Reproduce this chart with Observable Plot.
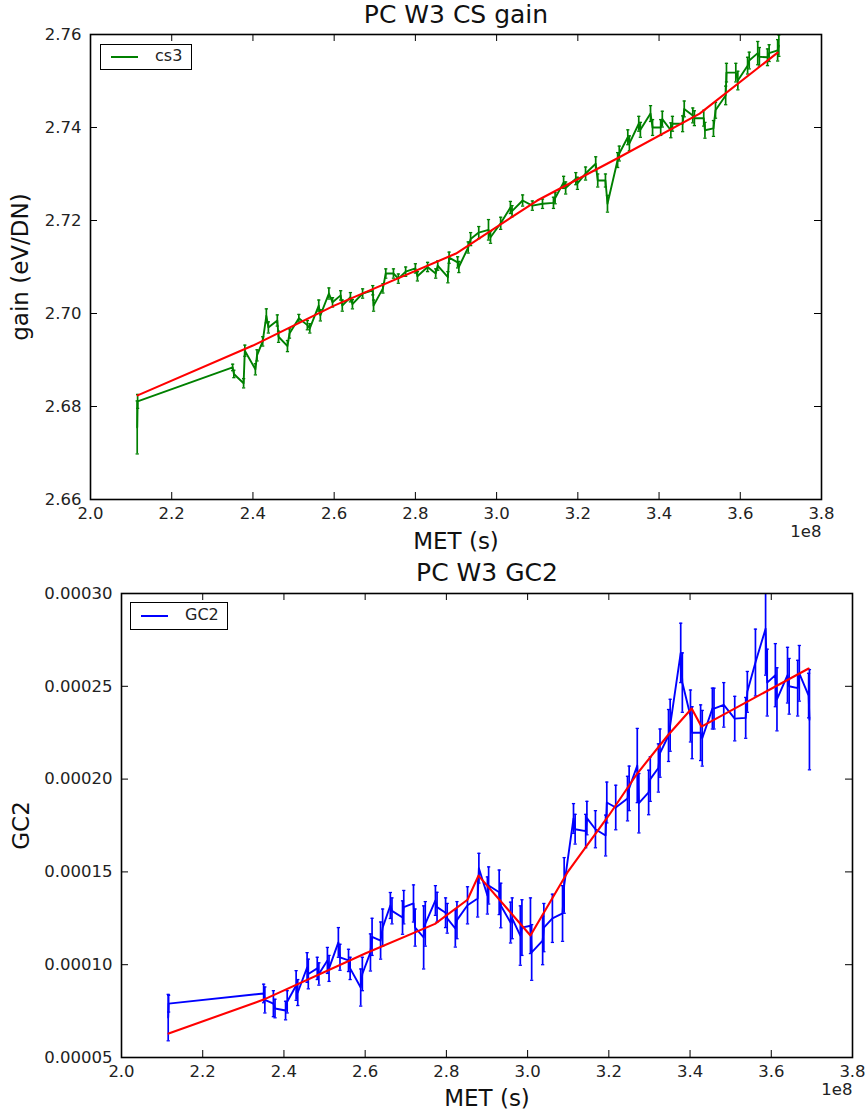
<!DOCTYPE html>
<html>
<head>
<meta charset="utf-8">
<script src="https://cdn.jsdelivr.net/npm/d3@7"></script>
<script src="https://cdn.jsdelivr.net/npm/@observablehq/plot@0.6"></script>
<style>
  html, body { margin: 0; padding: 0; background: #fff; }
  #page { position: relative; width: 866px; height: 1112px; font-family: "DejaVu Sans", sans-serif; }
  .panel { position: absolute; left: 0; }
  .legend { position: absolute; border: 1.5px solid #000; background: #fff; box-sizing: border-box;
            font-family: "DejaVu Sans", sans-serif; font-size: 16px; color: #222; }
  .legend .swatch { position: absolute; height: 2px; }
  .legend .lab { position: absolute; }
</style>
</head>
<body>
<div id="page"></div>
<script>
// ---------- Panel 1: PC W3 CS gain (x in units of 1e8 s) ----------
const csX = [2.115, 2.116, 2.350, 2.353, 2.377, 2.380, 2.406, 2.410, 2.424, 2.433, 2.438, 2.460, 2.463, 2.485, 2.490, 2.513, 2.534, 2.540, 2.562, 2.566, 2.587, 2.596, 2.616, 2.620, 2.640, 2.645, 2.670, 2.695, 2.697, 2.720, 2.727, 2.746, 2.758, 2.776, 2.800, 2.805, 2.830, 2.850, 2.855, 2.880, 2.883, 2.904, 2.907, 2.930, 2.936, 2.956, 2.980, 2.985, 3.010, 3.034, 3.038, 3.064, 3.088, 3.113, 3.140, 3.144, 3.165, 3.170, 3.195, 3.199, 3.219, 3.244, 3.249, 3.268, 3.273, 3.298, 3.302, 3.323, 3.327, 3.350, 3.354, 3.379, 3.384, 3.404, 3.408, 3.429, 3.433, 3.458, 3.462, 3.483, 3.487, 3.510, 3.513, 3.534, 3.539, 3.564, 3.566, 3.589, 3.594, 3.618, 3.622, 3.643, 3.647, 3.667, 3.671, 3.692, 3.695];
const csGain = [2.6755, 2.6811, 2.6884, 2.6870, 2.6850, 2.6920, 2.6880, 2.6910, 2.6940, 2.6995, 2.6970, 2.6985, 2.6950, 2.6930, 2.6957, 2.6990, 2.6975, 2.6968, 2.7017, 2.6996, 2.7043, 2.7024, 2.7039, 2.7017, 2.7035, 2.7020, 2.7043, 2.7050, 2.7017, 2.7054, 2.7086, 2.7086, 2.7075, 2.7090, 2.7097, 2.7080, 2.7100, 2.7086, 2.7103, 2.7078, 2.7120, 2.7110, 2.7100, 2.7142, 2.7160, 2.7174, 2.7180, 2.7164, 2.7194, 2.7228, 2.7220, 2.7243, 2.7232, 2.7236, 2.7238, 2.7248, 2.7282, 2.7270, 2.7290, 2.7280, 2.7301, 2.7322, 2.7286, 2.7286, 2.7236, 2.7330, 2.7344, 2.7379, 2.7366, 2.7408, 2.7395, 2.7430, 2.7400, 2.7400, 2.7418, 2.7394, 2.7408, 2.7408, 2.7440, 2.7426, 2.7420, 2.7420, 2.7394, 2.7398, 2.7437, 2.7469, 2.7518, 2.7518, 2.7501, 2.7533, 2.7544, 2.7560, 2.7552, 2.7551, 2.7560, 2.7566, 2.7576];
const csErr = [0.0057, 0.0015, 0.0007, 0.0008, 0.0010, 0.0012, 0.0012, 0.0012, 0.0010, 0.0015, 0.0012, 0.0012, 0.0012, 0.0012, 0.0010, 0.0008, 0.0010, 0.0010, 0.0012, 0.0012, 0.0012, 0.0010, 0.0010, 0.0012, 0.0010, 0.0010, 0.0010, 0.0010, 0.0012, 0.0010, 0.0010, 0.0010, 0.0010, 0.0010, 0.0010, 0.0010, 0.0010, 0.0010, 0.0010, 0.0012, 0.0012, 0.0012, 0.0012, 0.0012, 0.0014, 0.0013, 0.0022, 0.0013, 0.0013, 0.0013, 0.0012, 0.0012, 0.0010, 0.0010, 0.0012, 0.0012, 0.0013, 0.0013, 0.0013, 0.0013, 0.0014, 0.0015, 0.0014, 0.0014, 0.0018, 0.0016, 0.0016, 0.0016, 0.0016, 0.0016, 0.0016, 0.0017, 0.0017, 0.0017, 0.0017, 0.0016, 0.0016, 0.0017, 0.0017, 0.0016, 0.0016, 0.0017, 0.0017, 0.0017, 0.0017, 0.0020, 0.0020, 0.0020, 0.0020, 0.0018, 0.0018, 0.0025, 0.0020, 0.0018, 0.0018, 0.0023, 0.0023];
const csFitX = [2.116, 2.40, 2.60, 2.90, 3.10, 3.30, 3.50, 3.692];
const csFitY = [2.6824, 2.6931, 2.7017, 2.7129, 2.7243, 2.7335, 2.7430, 2.7561];
const csYTicks = [2.66, 2.68, 2.70, 2.72, 2.74, 2.76];

// ---------- Panel 2: PC W3 GC2 ----------
const gcX = [2.115, 2.116, 2.350, 2.353, 2.374, 2.378, 2.404, 2.408, 2.430, 2.434, 2.457, 2.460, 2.482, 2.486, 2.507, 2.511, 2.534, 2.538, 2.559, 2.563, 2.589, 2.593, 2.613, 2.617, 2.638, 2.643, 2.662, 2.666, 2.692, 2.695, 2.719, 2.723, 2.744, 2.748, 2.773, 2.777, 2.798, 2.802, 2.822, 2.826, 2.852, 2.877, 2.880, 2.901, 2.904, 2.930, 2.934, 2.958, 2.962, 2.982, 2.986, 3.007, 3.010, 3.037, 3.040, 3.061, 3.086, 3.090, 3.113, 3.117, 3.143, 3.146, 3.167, 3.192, 3.195, 3.217, 3.246, 3.250, 3.270, 3.274, 3.298, 3.302, 3.322, 3.326, 3.347, 3.351, 3.377, 3.381, 3.401, 3.405, 3.426, 3.430, 3.455, 3.459, 3.483, 3.510, 3.537, 3.541, 3.561, 3.586, 3.590, 3.610, 3.614, 3.640, 3.644, 3.665, 3.669, 3.692, 3.694];
const gcValue = [7.15e-5, 7.9e-5, 8.45e-5, 8.1e-5, 7.9e-5, 7.64e-5, 7.53e-5, 8.0e-5, 8.88e-5, 8.5e-5, 9.85e-5, 9.5e-5, 9.8e-5, 9.5e-5, 10.23e-5, 9.8e-5, 11.2e-5, 10.4e-5, 10.23e-5, 9.8e-5, 8.77e-5, 9.5e-5, 10.66e-5, 11.5e-5, 11.3e-5, 12.0e-5, 13.19e-5, 12.9e-5, 12.54e-5, 13.1e-5, 13.3e-5, 12.0e-5, 11.47e-5, 12.2e-5, 13.46e-5, 13.1e-5, 12.8e-5, 12.5e-5, 11.95e-5, 12.4e-5, 13.2e-5, 13.57e-5, 15.2e-5, 13.73e-5, 14.27e-5, 13.9e-5, 13.19e-5, 12.27e-5, 12.5e-5, 11.57e-5, 12.0e-5, 12.1e-5, 10.66e-5, 11.3e-5, 12.0e-5, 12.5e-5, 12.76e-5, 14.27e-5, 17.88e-5, 17.3e-5, 17.2e-5, 17.9e-5, 17.3e-5, 16.96e-5, 18.74e-5, 18.47e-5, 18.95e-5, 19.5e-5, 20.73e-5, 18.7e-5, 19.28e-5, 20.0e-5, 20.6e-5, 21.4e-5, 22.35e-5, 22.9e-5, 26.8e-5, 25.2e-5, 23.4e-5, 22.5e-5, 22.5e-5, 22.2e-5, 23.8e-5, 23.8e-5, 24.0e-5, 23.26e-5, 23.3e-5, 24.7e-5, 26.28e-5, 28.1e-5, 25.2e-5, 25.6e-5, 24.3e-5, 25.6e-5, 25.0e-5, 24.9e-5, 25.7e-5, 24.5e-5, 23.2e-5];
const gcErr = [1.25e-5, 0.45e-5, 0.5e-5, 0.7e-5, 0.7e-5, 0.5e-5, 0.5e-5, 0.6e-5, 0.8e-5, 0.7e-5, 0.8e-5, 0.8e-5, 0.6e-5, 0.6e-5, 0.7e-5, 0.7e-5, 0.8e-5, 0.7e-5, 0.6e-5, 0.6e-5, 1.0e-5, 0.9e-5, 1.0e-5, 1.0e-5, 1.0e-5, 1.0e-5, 0.7e-5, 0.7e-5, 0.9e-5, 0.9e-5, 1.0e-5, 1.0e-5, 1.7e-5, 1.2e-5, 0.8e-5, 0.8e-5, 0.8e-5, 0.8e-5, 1.0e-5, 1.0e-5, 1.0e-5, 1.0e-5, 0.8e-5, 1.0e-5, 1.0e-5, 1.2e-5, 1.2e-5, 1.1e-5, 1.1e-5, 1.6e-5, 1.5e-5, 1.5e-5, 1.5e-5, 1.3e-5, 1.3e-5, 1.3e-5, 1.5e-5, 1.5e-5, 0.8e-5, 0.8e-5, 0.9e-5, 0.9e-5, 1.0e-5, 1.1e-5, 1.1e-5, 1.2e-5, 1.2e-5, 1.2e-5, 2.0e-5, 1.6e-5, 1.2e-5, 1.2e-5, 1.3e-5, 1.3e-5, 1.4e-5, 1.4e-5, 1.6e-5, 1.6e-5, 1.4e-5, 1.4e-5, 1.5e-5, 1.5e-5, 1.1e-5, 1.1e-5, 1.2e-5, 1.2e-5, 1.1e-5, 1.1e-5, 1.8e-5, 2.5e-5, 1.8e-5, 1.7e-5, 1.7e-5, 1.5e-5, 1.5e-5, 1.5e-5, 1.5e-5, 1.2e-5, 2.7e-5];
const gcFitX = [2.116, 2.350, 2.600, 2.772, 2.852, 2.879, 3.007, 3.098, 3.200, 3.270, 3.345, 3.404, 3.428, 3.692];
const gcFitY = [6.29e-5, 8.12e-5, 10.6e-5, 12.2e-5, 13.5e-5, 14.8e-5, 11.57e-5, 14.97e-5, 18.04e-5, 20.3e-5, 22.35e-5, 23.8e-5, 22.83e-5, 25.96e-5];
const gcYTicks = [0.00005, 0.00010, 0.00015, 0.00020, 0.00025, 0.00030];

const xTicks = [2.0, 2.2, 2.4, 2.6, 2.8, 3.0, 3.2, 3.4, 3.6, 3.8];
const xLabel = "MET (s)";
const xOffsetLabel = "1e8";

function panel({title, yLabel, xs, ys, es, fitX, fitY, yDomain, yTicks, yFormat, color,
                height, margins, titleDy, xLabelDy, offsetDy, yLabelDx}) {
  const rows = xs.map((x, i) => ({x, y: ys[i], e: es[i]}));
  const fit = fitX.map((x, i) => ({x, y: fitY[i]}));
  const cap = 0.004;
  const tick = 7;
  const width = 866;
  const fw = width - margins[1] - margins[3];
  const fh = height - margins[0] - margins[2];
  return Plot.plot({
    width,
    height,
    marginTop: margins[0], marginRight: margins[1], marginBottom: margins[2], marginLeft: margins[3],
    style: {fontFamily: "DejaVu Sans", fontSize: "16.5px", color: "#222", background: "#fff", overflow: "visible"},
    x: {domain: [2.0, 3.8]},
    y: {domain: yDomain},
    marks: [
      Plot.ruleX(rows, {x: "x", y1: d => d.y - d.e, y2: d => d.y + d.e, stroke: color, strokeWidth: 1.7, clip: true}),
      Plot.link(rows, {x1: d => d.x - cap, x2: d => d.x + cap, y1: d => d.y + d.e, y2: d => d.y + d.e, stroke: color, strokeWidth: 1.3, clip: true}),
      Plot.link(rows, {x1: d => d.x - cap, x2: d => d.x + cap, y1: d => d.y - d.e, y2: d => d.y - d.e, stroke: color, strokeWidth: 1.3, clip: true}),
      Plot.line(rows, {x: "x", y: "y", stroke: color, strokeWidth: 1.9, clip: true}),
      Plot.line(fit, {x: "x", y: "y", stroke: "#ff0000", strokeWidth: 2.1, clip: true}),
      // inward ticks on all four sides
      Plot.tickX(xTicks, {x: d => d, insetTop: fh - tick, stroke: "#000", strokeWidth: 1}),
      Plot.tickX(xTicks, {x: d => d, insetBottom: fh - tick, stroke: "#000", strokeWidth: 1}),
      Plot.tickY(yTicks, {y: d => d, insetRight: fw - tick, stroke: "#000", strokeWidth: 1}),
      Plot.tickY(yTicks, {y: d => d, insetLeft: fw - tick, stroke: "#000", strokeWidth: 1}),
      Plot.frame({stroke: "#000", strokeWidth: 1.6}),
      Plot.axisX({anchor: "bottom", ticks: xTicks, tickSize: 0, tickPadding: 8, tickFormat: d3.format(".1f"), label: null}),
      Plot.axisY({anchor: "left", ticks: yTicks, tickSize: 0, tickPadding: 9, tickFormat: d3.format(yFormat), label: null}),
      Plot.text([title], {frameAnchor: "top", dy: titleDy, fontSize: 25, fill: "#111", textAnchor: "middle", lineAnchor: "middle"}),
      Plot.text([xLabel], {frameAnchor: "bottom", dy: xLabelDy, fontSize: 23, fill: "#111", textAnchor: "middle", lineAnchor: "middle"}),
      Plot.text([xOffsetLabel], {frameAnchor: "bottom-right", dy: offsetDy, fontSize: 16.5, fill: "#222", textAnchor: "end", lineAnchor: "middle"}),
      Plot.text([yLabel], {frameAnchor: "left", dx: yLabelDx, rotate: -90, fontSize: 23, fill: "#111", textAnchor: "middle", lineAnchor: "middle"})
    ]
  });
}

const page = document.getElementById("page");

function addPanel(svg, top) {
  const wrap = document.createElement("div");
  wrap.className = "panel";
  wrap.style.top = top + "px";
  wrap.appendChild(svg);
  page.appendChild(wrap);
}

function addLegend(label, color, box) {
  const lg = document.createElement("div");
  lg.className = "legend";
  lg.style.left = box.left + "px"; lg.style.top = box.top + "px";
  lg.style.width = box.width + "px"; lg.style.height = box.height + "px";
  const sw = document.createElement("div");
  sw.className = "swatch";
  sw.style.background = color; sw.style.left = "10px"; sw.style.width = "27px"; sw.style.top = (box.height / 2 - 2) + "px";
  const tx = document.createElement("div");
  tx.className = "lab";
  tx.textContent = label;
  tx.style.left = "54px"; tx.style.top = (box.height / 2 - 12) + "px";
  lg.appendChild(sw); lg.appendChild(tx);
  page.appendChild(lg);
}

addPanel(panel({
  title: "PC W3 CS gain", yLabel: "gain (eV/DN)",
  xs: csX, ys: csGain, es: csErr, fitX: csFitX, fitY: csFitY,
  yDomain: [2.66, 2.76], yTicks: csYTicks, yFormat: ".2f", color: "#008000",
  height: 556, margins: [34, 45, 57, 90], titleDy: -20, xLabelDy: 42, offsetDy: 32, yLabelDx: -70
}), 0);

addPanel(panel({
  title: "PC W3 GC2", yLabel: "GC2",
  xs: gcX, ys: gcValue, es: gcErr, fitX: gcFitX, fitY: gcFitY,
  yDomain: [0.00005, 0.00030], yTicks: gcYTicks, yFormat: ".5f", color: "#0000ff",
  height: 556, margins: [37, 14, 55, 121], titleDy: -21, xLabelDy: 41, offsetDy: 32, yLabelDx: -100
}), 556);

addLegend("cs3", "#008000", {left: 100, top: 44, width: 92, height: 26});
addLegend("GC2", "#0000ff", {left: 130, top: 602, width: 98, height: 28});
</script>
</body>
</html>
